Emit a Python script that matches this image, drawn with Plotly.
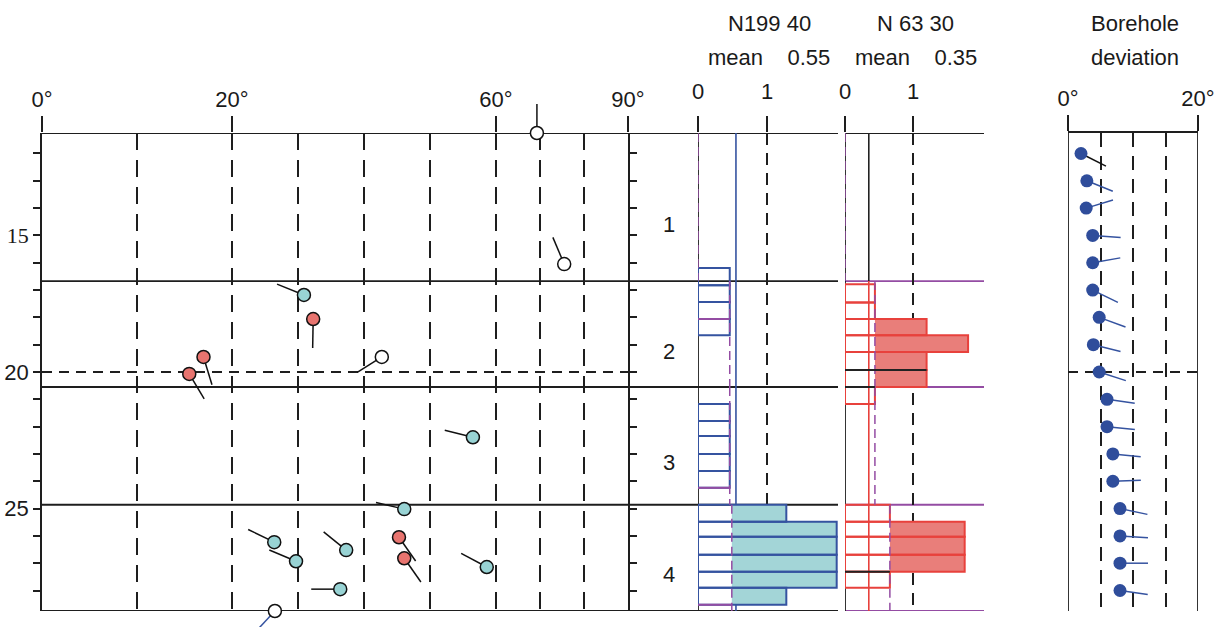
import numpy as np
import plotly.graph_objects as go

W, H = 1220, 627

# ---------------- data ----------------
DEPTH_RANGE = [11.25, 28.75]
ZONE_BOUNDS = [11.25, 16.67, 20.55, 24.86, 28.75]
ZONE_LABELS = ["1", "2", "3", "4"]
DEPTH_TICKS = [15, 20, 25]
DEPTH_TICK_TEXT = ['<span style="font-family:Liberation Serif">15</span>', "20", "25"]
REF_DEPTH = 20

DIP_TICKS = [0, 20, 60, 90]
DIP_TICK_TEXT = ["0°", "20°", "60°", "90°"]
DIP_GRID = [10, 30, 40, 50, 70, 80]
# piecewise-linear dip scale of the tadpole panel
DIP_SCALE_DEG = [0, 20, 60, 90]
DIP_SCALE_POS = [0, 190, 454, 586]

# tadpoles: depth, dip (deg), dip azimuth (deg), class
TP_DEPTH = [11.25, 16.05, 17.18, 18.06, 19.45, 20.07, 19.45, 22.39, 25.02,
            26.05, 26.82, 26.52, 27.95, 27.14, 26.23, 26.93, 28.75]
TP_DIP = [69.3, 75.5, 30.9, 32.3, 17.0, 15.5, 42.7, 56.5, 46.1,
          45.3, 46.1, 37.3, 36.4, 58.6, 26.4, 29.7, 26.5]
TP_AZ = [0, 337, 292, 181, 163, 149, 238, 284, 283,
         145, 145, 309, 270, 298, 296, 293, 223]
TP_KIND = ["open", "open", "teal", "red", "red", "red", "open", "teal", "teal",
           "red", "red", "teal", "teal", "teal", "teal", "teal", "open"]
TP_TAIL = ["k"] * 16 + ["b"]

# histogram 1 (N199 40)
H1_TITLE = ["N199 40", "mean&nbsp;&nbsp;&nbsp; 0.55"]
H1_MEAN = 0.55
H1_TOP = [16.19, 16.82, 17.44, 18.06, 21.17, 21.79, 22.34, 23.00, 23.62,
          24.86, 25.48, 26.03, 26.69, 27.31, 27.90]
H1_BOT = [16.82, 17.44, 18.06, 18.65, 21.79, 22.34, 23.00, 23.62, 24.24,
          25.48, 26.03, 26.69, 27.31, 27.90, 28.52]
H1_VAL = [0.46, 0.46, 0.46, 0.46, 0.46, 0.46, 0.46, 0.46, 0.46,
          1.28, 2.01, 2.01, 2.01, 2.01, 1.28]
H1_ZONE = [1, 1, 1, 1, 2, 2, 2, 2, 2, 3, 3, 3, 3, 3, 3]
H1_ZONE_BASE = [0.0, 0.46, 0.46, 0.49]
H1_MARK_DEPTH = [18.06, 24.24, 28.52]
H1_MARK_ZONE = [1, 2, 3]

# histogram 2 (N 63 30)
H2_TITLE = ["N 63 30", "mean&nbsp;&nbsp;&nbsp; 0.35"]
H2_MEAN = 0.35
H2_TOP = [16.79, 17.46, 18.06, 18.65, 19.27, 19.93, 20.55,
          24.86, 25.48, 26.03, 26.69, 27.31]
H2_BOT = [17.46, 18.06, 18.65, 19.27, 19.93, 20.55, 21.17,
          25.48, 26.03, 26.69, 27.31, 27.90]
H2_VAL = [0.44, 0.44, 1.20, 1.81, 1.20, 1.20, 0.44,
          0.66, 1.76, 1.76, 1.76, 0.66]
H2_ZONE = [1, 1, 1, 1, 1, 1, 2, 3, 3, 3, 3, 3]
H2_ZONE_BASE = [0.0, 0.44, 0.44, 0.66]
H2_BLACK_EDGE = [5, 6, 11]

HIST_TICKS = [0, 1]

# borehole deviation
DEV_TITLE = ["Borehole", "deviation"]
DEV_DEPTH = [12, 13, 14, 15, 16, 17, 18, 19, 20, 21, 22, 23, 24, 25, 26, 27, 28]
DEV_VAL = [2.0, 2.9, 2.8, 3.8, 3.8, 3.8, 4.8, 3.9, 4.8, 6.0, 6.0, 6.9, 6.9,
           8.0, 8.0, 8.0, 8.0]
DEV_AZ = [117, 112, 73, 94, 80, 116, 110, 104, 108, 98, 96, 96, 88, 102, 94, 90, 98]
DEV_TAIL = ["k"] + ["b"] * 16
DEV_TICKS = [0, 20]
DEV_TICK_TEXT = ["0°", "20°"]
DEV_GRID = [5, 10, 15]

# ---------------- styles / geometry ----------------
FONT = "Liberation Sans, Arial, sans-serif"
TXT = "#1a1a1a"
BLUE = "#3553A0"
TEAL = "#A3D5D7"
RED = "#E8413C"
REDFILL = "#E97E7A"
PURPLE = "#944CA3"
DOT = "#2F4D9B"
KIND_FILL = {"open": "white", "teal": "#98D3D4", "red": "#E8746F"}
TAIL_COL = {"k": "#111111", "b": BLUE}
LW = 1.8
INK = "#1e1e1e"

PLOT_TOP, PLOT_BOT = 133, 611          # pixel rows of the depth axis ends
LEFT = (42, 628); HIST1 = (698, 838); HIST2 = (845, 984); DEV = (1068, 1198)
PPU_Y = (PLOT_BOT - PLOT_TOP) / (DEPTH_RANGE[1] - DEPTH_RANGE[0])   # px per depth unit
PPU_X_LEFT = (LEFT[1] - LEFT[0]) / (DIP_SCALE_POS[-1] - DIP_SCALE_POS[0])
PPU_X_DEV = (DEV[1] - DEV[0]) / (DEV_TICKS[1] - DEV_TICKS[0])
TAIL_LEFT, TAIL_DEV = 29, 28           # tail lengths in px


def warp(d):
    return np.interp(d, DIP_SCALE_DEG, DIP_SCALE_POS)


def px(v):
    return v / W


def py(v):
    return 1 - v / H


def tails(xc, yc, az, length, ppx, ppy, cols, xa, ya):
    for c in sorted(set(cols)):
        xs, ys = [], []
        for x0, y0, a, cc in zip(xc, yc, az, cols):
            if cc != c:
                continue
            r = np.radians(a)
            xs += [x0, x0 + length * np.sin(r) / ppx, None]
            ys += [y0, y0 - length * np.cos(r) / ppy, None]
        fig.add_trace(go.Scatter(x=xs, y=ys, mode="lines", xaxis=xa, yaxis=ya,
                                 showlegend=False, hoverinfo="skip",
                                 line=dict(color=TAIL_COL[c], width=1.5)))


fig = go.Figure()


# ---------- histogram helper ----------
def add_hist(top, bot, val, zone, base_by_zone, xa, fillcol, linecol):
    top = np.array(top); bot = np.array(bot); val = np.array(val)
    base = np.array([base_by_zone[z] for z in zone])
    cen = (top + bot) / 2
    wid = bot - top
    m = val > base + 1e-9
    fig.add_trace(go.Bar(orientation="h", y=cen[m], x=(val - base)[m], base=base[m],
                         width=wid[m], xaxis=xa, yaxis="y", showlegend=False,
                         marker=dict(color=fillcol, line=dict(width=0))))
    fig.add_trace(go.Bar(orientation="h", y=cen, x=val, base=0, width=wid,
                         xaxis=xa, yaxis="y", showlegend=False,
                         marker=dict(color="rgba(0,0,0,0)",
                                     line=dict(color=linecol, width=2))))
    xs, ys = [], []
    for i, b in enumerate(base_by_zone):
        xs += [b, b, None]
        ys += [ZONE_BOUNDS[i], ZONE_BOUNDS[i + 1], None]
    fig.add_trace(go.Scatter(x=xs, y=ys, mode="lines", xaxis=xa, yaxis="y",
                             showlegend=False,
                             line=dict(color=PURPLE, width=1.5, dash="9px,5px")))


add_hist(H1_TOP, H1_BOT, H1_VAL, H1_ZONE, H1_ZONE_BASE, "x2", TEAL, BLUE)
add_hist(H2_TOP, H2_BOT, H2_VAL, H2_ZONE, H2_ZONE_BASE, "x3", REDFILL, RED)

xs, ys = [], []
for d, z in zip(H1_MARK_DEPTH, H1_MARK_ZONE):
    xs += [0, H1_ZONE_BASE[z], None]
    ys += [d, d, None]
fig.add_trace(go.Scatter(x=xs, y=ys, mode="lines", xaxis="x2", yaxis="y",
                         showlegend=False, line=dict(color=PURPLE, width=2)))
xs, ys = [], []
for i in H2_BLACK_EDGE:
    xs += [0, H2_VAL[i], None]
    ys += [H2_TOP[i], H2_TOP[i], None]
fig.add_trace(go.Scatter(x=xs, y=ys, mode="lines", xaxis="x3", yaxis="y",
                         showlegend=False, line=dict(color="#222222", width=2)))

# ---------- deviation ----------
tails(DEV_VAL, DEV_DEPTH, DEV_AZ, TAIL_DEV, PPU_X_DEV, PPU_Y, DEV_TAIL, "x4", "y")
fig.add_trace(go.Scatter(x=DEV_VAL, y=DEV_DEPTH, mode="markers", xaxis="x4", yaxis="y",
                         cliponaxis=False, showlegend=False,
                         marker=dict(size=13, color=DOT, line=dict(width=0))))

# ---------- tadpoles (on an unclipped full-height twin of the depth axis) ----------
tails(warp(TP_DIP), TP_DEPTH, TP_AZ, TAIL_LEFT, PPU_X_LEFT, PPU_Y, TP_TAIL, "x6", "y2")
fig.add_trace(go.Scatter(
    x=warp(TP_DIP), y=TP_DEPTH, mode="markers", xaxis="x6", yaxis="y2",
    cliponaxis=False, showlegend=False,
    marker=dict(size=13, color=[KIND_FILL[k] for k in TP_KIND],
                line=dict(color="#111111", width=1.5))))

# ---------- structural lines ----------
shapes = []
for d in ZONE_BOUNDS:
    shapes.append(dict(type="line", xref="paper", yref="y", x0=px(LEFT[0]), x1=px(HIST1[1]),
                       y0=d, y1=d, line=dict(color=INK, width=LW), layer="below"))
shapes.append(dict(type="line", xref="paper", yref="y", x0=px(HIST2[0]), x1=px(HIST2[1]),
                   y0=ZONE_BOUNDS[0], y1=ZONE_BOUNDS[0],
                   line=dict(color=INK, width=LW), layer="below"))
for d in ZONE_BOUNDS[1:]:
    shapes.append(dict(type="line", xref="paper", yref="y", x0=px(HIST2[0]), x1=px(HIST2[1]),
                       y0=d, y1=d, line=dict(color=PURPLE, width=LW), layer="below"))
for xa, xv in [("x2", 0), ("x3", 0), ("x4", DEV_TICKS[0]), ("x4", DEV_TICKS[1])]:
    shapes.append(dict(type="line", xref=xa, yref="y", x0=xv, x1=xv,
                       y0=DEPTH_RANGE[0], y1=DEPTH_RANGE[1],
                       line=dict(color=INK, width=LW), layer="below"))
shapes.append(dict(type="line", xref="x", yref="y", x0=float(warp(0)), x1=float(warp(90)),
                   y0=REF_DEPTH, y1=REF_DEPTH,
                   line=dict(color=INK, width=LW, dash="10px,7px"), layer="below"))
shapes.append(dict(type="line", xref="x4", yref="y", x0=DEV_TICKS[0], x1=DEV_TICKS[1],
                   y0=REF_DEPTH, y1=REF_DEPTH,
                   line=dict(color=INK, width=LW, dash="10px,7px"), layer="below"))
shapes.append(dict(type="line", xref="x2", yref="y", x0=H1_MEAN, x1=H1_MEAN,
                   y0=DEPTH_RANGE[0], y1=DEPTH_RANGE[1],
                   line=dict(color=BLUE, width=1.6), layer="between"))
shapes.append(dict(type="line", xref="x3", yref="y", x0=H2_MEAN, x1=H2_MEAN,
                   y0=ZONE_BOUNDS[0], y1=ZONE_BOUNDS[1],
                   line=dict(color="#222222", width=1.6), layer="between"))
shapes.append(dict(type="line", xref="x3", yref="y", x0=H2_MEAN, x1=H2_MEAN,
                   y0=ZONE_BOUNDS[1], y1=DEPTH_RANGE[1],
                   line=dict(color=RED, width=1.6), layer="between"))

# ---------- text ----------
TFONT = dict(family=FONT, size=22, color=TXT, weight=300)
ann = []


def txt(x, y, s):
    ann.append(dict(x=px(x), y=py(y), xref="paper", yref="paper", text=s,
                    showarrow=False, font=TFONT,
                    xanchor="center", yanchor="middle"))


txt(769, 24, H1_TITLE[0]); txt(769, 57, H1_TITLE[1])
txt(915, 24, H2_TITLE[0]); txt(916, 57, H2_TITLE[1])
txt(1135, 23, DEV_TITLE[0]); txt(1135, 57, DEV_TITLE[1])
for i, lab in enumerate(ZONE_LABELS):
    ann.append(dict(x=px(669), y=(ZONE_BOUNDS[i] + ZONE_BOUNDS[i + 1]) / 2,
                    xref="paper", yref="y", text=lab, showarrow=False, yshift=-17,
                    font=TFONT, xanchor="center", yanchor="middle"))

tickfont = dict(family=FONT, size=22, color=TXT)
ydom = [py(PLOT_BOT), py(PLOT_TOP)]
common_top = dict(anchor="y", side="top", ticks="outside", ticklen=16, tickwidth=1.5,
                  tickcolor=INK, zeroline=False, tickfont=tickfont, automargin=False,
                  fixedrange=True)

fig.update_layout(
    width=W, height=H, autosize=False,
    margin=dict(l=0, r=0, t=0, b=0, pad=0, autoexpand=False),
    paper_bgcolor="white", plot_bgcolor="rgba(0,0,0,0)",
    barmode="overlay", showlegend=False,
    shapes=shapes,
    yaxis=dict(domain=ydom, range=[DEPTH_RANGE[1], DEPTH_RANGE[0]], anchor="x",
               tickmode="array", tickvals=DEPTH_TICKS, ticktext=DEPTH_TICK_TEXT,
               ticks="outside", ticklen=7, tickwidth=1.5, tickcolor=INK,
               showline=True, linecolor=INK, linewidth=LW, mirror="ticks",
               showgrid=False, zeroline=False, tickfont=tickfont, automargin=False,
               fixedrange=True,
               minor=dict(tickmode="linear", tick0=0, dtick=1, ticks="outside",
                          ticklen=7, tickwidth=1.5, tickcolor=INK, showgrid=False)),
    # same depth scale, extended over the full page height (tadpole tails not clipped)
    yaxis2=dict(domain=[0, 1], anchor="x6", visible=False, fixedrange=True,
                range=[DEPTH_RANGE[0] + (H - PLOT_TOP) / PPU_Y,
                       DEPTH_RANGE[0] - PLOT_TOP / PPU_Y]),
    xaxis6=dict(domain=[px(LEFT[0]), px(LEFT[1])],
                range=[DIP_SCALE_POS[0], DIP_SCALE_POS[-1]],
                anchor="y2", visible=False, fixedrange=True),
    xaxis=dict(domain=[px(LEFT[0]), px(LEFT[1])], range=[DIP_SCALE_POS[0], DIP_SCALE_POS[-1]],
               tickmode="array", tickvals=warp(DIP_TICKS), ticktext=DIP_TICK_TEXT,
               showgrid=True, gridcolor=INK, gridwidth=1.5, griddash="17px,10px",
               minor=dict(tickmode="array", tickvals=warp(DIP_GRID), ticks="",
                          showgrid=True, gridcolor=INK, gridwidth=1.5,
                          griddash="17px,10px"),
               showline=False, **common_top),
    xaxis2=dict(domain=[px(HIST1[0]), px(HIST1[1])], range=[0, 140 / 69],
                tickmode="array", tickvals=HIST_TICKS, showgrid=True, gridcolor=INK,
                gridwidth=1.5, griddash="12px,8px", showline=False,
                ticklabelstandoff=8, **common_top),
    xaxis3=dict(domain=[px(HIST2[0]), px(HIST2[1])], range=[0, 139 / 68],
                tickmode="array", tickvals=HIST_TICKS, showgrid=True, gridcolor=INK,
                gridwidth=1.5, griddash="12px,8px", showline=False,
                ticklabelstandoff=8, **common_top),
    xaxis4=dict(domain=[px(DEV[0]), px(DEV[1])], range=[DEV_TICKS[0], DEV_TICKS[1]],
                tickmode="array", tickvals=DEV_TICKS, ticktext=DEV_TICK_TEXT,
                showgrid=False,
                minor=dict(tickmode="array", tickvals=DEV_GRID, ticks="",
                           showgrid=True, gridcolor=INK, gridwidth=1.5,
                           griddash="14px,9px"),
                showline=True, linecolor=INK, linewidth=LW, **common_top),
    annotations=ann,
)

fig.write_html("out.html")
